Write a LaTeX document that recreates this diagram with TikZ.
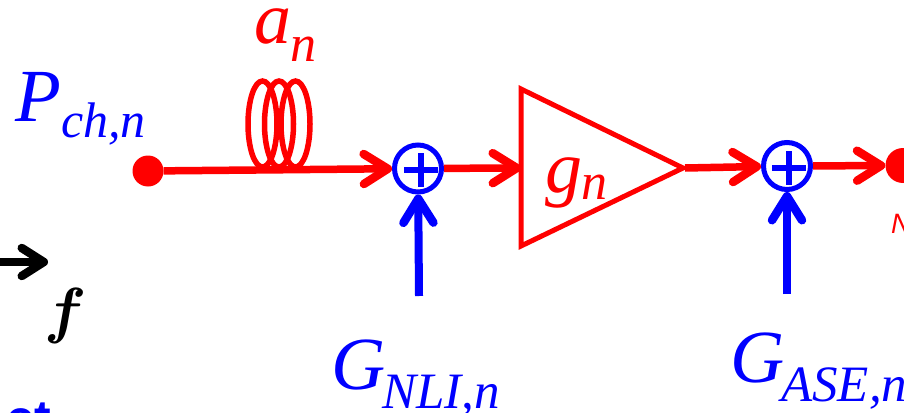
\documentclass[tikz,border=0pt]{standalone}
\usepackage{fontspec}
\setmainfont{Liberation Serif}
\setsansfont{Liberation Sans}
\usetikzlibrary{arrows.meta}

\tikzset{
  sigline/.style={red, line width=7.5pt, -{Straight Barb[length=24pt, width=30pt, round, line width=8.5pt]}},
  noisearrow/.style={blue, line width=8pt, -{Straight Barb[length=24pt, width=30pt, round, line width=8.5pt]}},
  plusnode/.style={circle, draw=blue, line width=5pt, minimum size=47pt, inner sep=0pt},
  dotnode/.style={circle, fill=red, inner sep=0pt},
  bluelabel/.style={blue, font=\fontsize{75}{75}\selectfont\itshape},
  bluesub/.style={blue, font=\fontsize{50}{50}\selectfont\itshape},
  redlabel/.style={red, font=\fontsize{74}{74}\selectfont\itshape},
  redsub/.style={red, font=\fontsize{52}{52}\selectfont\itshape},
}

\begin{document}
\begin{tikzpicture}[x=1pt, y=-1pt]
  \useasboundingbox (0, 0) rectangle (904, 412);

  % Nodes on the signal path
  \node[dotnode, minimum size=31pt] (src) at (148, 171) {};
  \node[dotnode, minimum size=35pt] (sink) at (903, 165.5) {};
  \node[plusnode] (plusa) at (418, 168.5) {};
  \node[plusnode] (plusb) at (787, 166) {};
  \coordinate (ampin) at (521, 168);
  \coordinate (ampout) at (685, 168);
  \coordinate (nlifoot) at (419, 296);
  \coordinate (asefoot) at (787, 294);
  \coordinate (ftail) at (0, 262);
  \coordinate (fhead) at (48, 262);

  % Plus signs
  \draw[blue, line width=5.5pt] (404, 170) -- (438, 170);
  \draw[blue, line width=6.5pt] (421, 153) -- (421, 187);
  \draw[blue, line width=5.5pt] (772, 168) -- (806, 168);
  \draw[blue, line width=6.5pt] (789, 151) -- (789, 185);

  % Fibre coil
  \draw[red, line width=5.5pt] (262.5, 124) ellipse (14.5 and 43);
  \draw[red, line width=5.5pt] (279, 124) ellipse (14.5 and 43);
  \draw[red, line width=5.5pt] (295.5, 124) ellipse (14.5 and 43);

  % Amplifier
  \draw[red, line width=5pt, line join=miter] (521, 89) -- (683, 168) -- (521, 246) -- cycle;

  % Signal path
  \draw[sigline] (src) -- (plusa);
  \draw[sigline] (plusa) -- (ampin);
  \draw[sigline] (ampout) -- (plusb);
  \draw[sigline] (plusb) -- (sink);

  % Noise inputs
  \draw[noisearrow] (nlifoot) -- (plusa);
  \draw[noisearrow] (asefoot) -- (plusb);

  % Frequency arrow
  \draw[black, line width=7.5pt, -{Straight Barb[length=22pt, width=28pt, round, line width=8.5pt]}] (ftail) -- (fhead);

  % Labels
  \node[bluelabel, anchor=base west, inner sep=0pt] (pch) at (15, 121) {P};
  \node[bluesub, anchor=base west, inner sep=0pt] (pchsub) at (61, 137) {ch,n};
  \node[redlabel, anchor=base west, inner sep=0pt] (alabel) at (254, 44) {a};
  \node[redsub, anchor=base west, inner sep=0pt] (asub) at (290, 62) {n};
  \node[redlabel, anchor=base west, inner sep=0pt] (glabel) at (545, 192) {g};
  \node[redsub, anchor=base west, inner sep=0pt] (gsub) at (581, 199) {n};
  \node[bluelabel, anchor=base west, inner sep=0pt] (nli) at (331, 389) {G};
  \node[blue, font=\fontsize{51}{51}\selectfont\itshape, anchor=base west, inner sep=0pt] (nlisub) at (382, 408) {NLI,n};
  \node[bluelabel, anchor=base west, inner sep=0pt] (ase) at (730, 382) {G};
  \node[blue, font=\fontsize{51}{51}\selectfont\itshape, anchor=base west, inner sep=0pt] (asesub) at (781, 401) {ASE,n};
  \node[font=\Huge\boldmath, scale=2.5, anchor=base, inner sep=0pt] (flabel) at (66, 331) {$f$};
  \node[blue, font=\fontsize{50}{50}\selectfont\sffamily\bfseries, anchor=base west, inner sep=0pt] (cut) at (6, 435) {ct};
  \node[red, font=\fontsize{28}{28}\selectfont\sffamily\itshape, anchor=base west, inner sep=0pt] (cutn) at (891, 233) {N};
\end{tikzpicture}
\end{document}
